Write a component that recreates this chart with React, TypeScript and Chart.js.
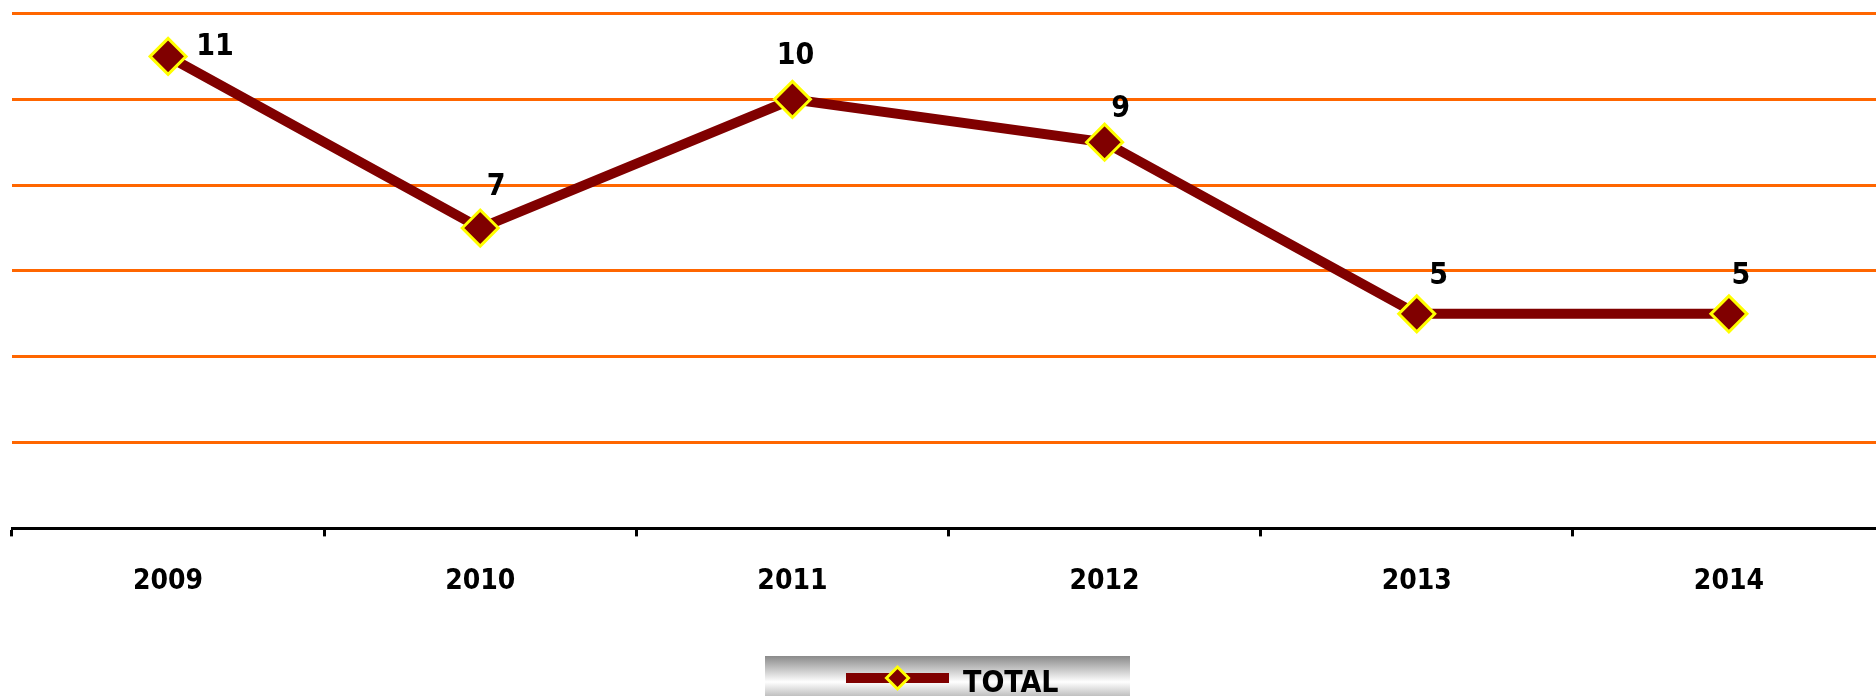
import React, { useEffect, useRef } from "react";
import { Chart, registerables } from "chart.js";

Chart.register(...registerables);

const years = ["2009", "2010", "2011", "2012", "2013", "2014"];
const totals = [11, 7, 10, 9, 5, 5];
const seriesName = "TOTAL";
const yMin = 0;
const yMax = 12;
const yStep = 2;

const FONT = "'DejaVu Sans Condensed', 'DejaVu Sans', sans-serif";
const MAROON = "#800000";
const YELLOW = "#FFFF00";
const ORANGE = "#FF6600";

// label offsets relative to each point (style only)
const labelOffsets = [
  [47, -9],
  [16, -41],
  [3, -43],
  [16, -33],
  [22, -38],
  [12, -38],
];

function diamond(ctx: CanvasRenderingContext2D, x: number, y: number, r: number) {
  ctx.beginPath();
  ctx.moveTo(x - r, y);
  ctx.lineTo(x, y - r);
  ctx.lineTo(x + r, y);
  ctx.lineTo(x, y + r);
  ctx.closePath();
}

const dataLabelPlugin = {
  id: "dataLabels",
  afterDatasetsDraw(chart: any) {
    const ctx = chart.ctx as CanvasRenderingContext2D;
    const meta = chart.getDatasetMeta(0);
    const ds = chart.data.datasets[0];
    ctx.save();
    ctx.font = `bold 30px ${FONT}`;
    ctx.fillStyle = "#000";
    ctx.textAlign = "center";
    ctx.textBaseline = "middle";
    meta.data.forEach((pt: any, i: number) => {
      const off = labelOffsets[i] || [0, -40];
      ctx.fillText(String(ds.data[i]), pt.x + off[0], pt.y + off[1]);
    });
    ctx.restore();
  },
};

const legendPlugin = {
  id: "customLegend",
  afterDraw(chart: any) {
    const ctx = chart.ctx as CanvasRenderingContext2D;
    const label = chart.data.datasets[0].label;
    const bx = 765;
    const by = 656;
    const bw = 365;
    const bh = 52;
    ctx.save();
    const g = ctx.createLinearGradient(0, by, 0, by + bh);
    g.addColorStop(0, "#8a8a8a");
    g.addColorStop(0.5, "#ffffff");
    g.addColorStop(1, "#8a8a8a");
    ctx.fillStyle = g;
    ctx.fillRect(bx, by, bw, bh);
    const ly = 678;
    ctx.strokeStyle = MAROON;
    ctx.lineWidth = 10;
    ctx.beginPath();
    ctx.moveTo(846, ly);
    ctx.lineTo(949, ly);
    ctx.stroke();
    diamond(ctx, 897.5, ly, 11);
    ctx.fillStyle = MAROON;
    ctx.fill();
    ctx.strokeStyle = YELLOW;
    ctx.lineWidth = 3;
    ctx.stroke();
    ctx.font = `bold 30px ${FONT}`;
    ctx.fillStyle = "#000";
    ctx.textAlign = "left";
    ctx.textBaseline = "middle";
    ctx.fillText(label, 963, 684);
    ctx.restore();
  },
};

export default function App() {
  const ref = useRef<HTMLCanvasElement | null>(null);

  useEffect(() => {
    document.body.style.overflow = "hidden";
    document.documentElement.style.overflow = "hidden";
    if (!ref.current) return;
    const chart = new Chart(ref.current, {
      type: "line",
      data: {
        labels: years,
        datasets: [
          {
            label: seriesName,
            data: totals,
            borderColor: MAROON,
            backgroundColor: MAROON,
            borderWidth: 10,
            tension: 0,
            pointStyle: "rectRot",
            pointRadius: 18,
            pointHoverRadius: 18,
            pointBackgroundColor: MAROON,
            pointBorderColor: YELLOW,
            pointBorderWidth: 3,
            clip: false as any,
          },
        ],
      },
      options: {
        responsive: false,
        animation: false,
        events: [],
        layout: { autoPadding: false, padding: { left: 12, right: 5, top: 13.5, bottom: 68 } },
        plugins: {
          legend: { display: false },
          tooltip: { enabled: false },
        },
        scales: {
          x: {
            type: "category",
            offset: true,
            grid: {
              display: true,
              drawOnChartArea: false,
              drawTicks: true,
              tickLength: 8,
              tickWidth: 3,
              tickColor: "#000",
              offset: true,
            },
            border: { display: true, color: "#000", width: 3 },
            ticks: {
              color: "#000",
              padding: 29,
              font: { family: FONT, size: 28, weight: "bold" },
            },
          },
          y: {
            min: yMin,
            max: yMax,
            ticks: { display: false, stepSize: yStep },
            grid: {
              drawTicks: false,
              lineWidth: 3,
              color: (c: any) => (c.tick && c.tick.value === yMin ? "rgba(0,0,0,0)" : ORANGE),
            },
            border: { display: false },
          },
        },
      },
      plugins: [dataLabelPlugin, legendPlugin],
    });
    return () => chart.destroy();
  }, []);

  return (
    <div style={{ position: "fixed", left: 0, top: 0, width: 1890, height: 696, background: "#fff" }}>
      <canvas ref={ref} width={1890} height={696} style={{ display: "block" }} />
    </div>
  );
}
